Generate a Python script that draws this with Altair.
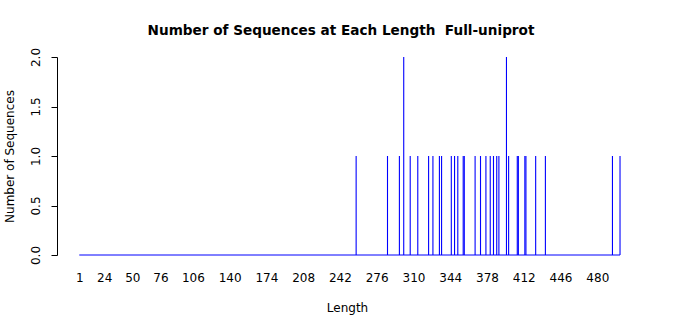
import altair as alt
import pandas as pd

# Sequence lengths with non-zero counts
lengths = [257, 286, 297, 301, 307, 314, 324, 328, 334, 336, 345, 348, 351,
           356, 357, 367, 372, 377, 381, 384, 387, 389, 396, 398, 406, 407,
           413, 414, 423, 432, 494, 501]
counts = [1, 1, 1, 2, 1, 1, 1, 1, 1, 1, 1, 1, 1,
          1, 1, 1, 1, 1, 1, 1, 1, 1, 2, 1, 1, 1,
          1, 1, 1, 1, 1, 1]
x_tick_labels = [1, 24, 50, 76, 106, 140, 174, 208, 242, 276, 310, 344, 378, 412, 446, 480]
y_ticks = [0, 0.5, 1.0, 1.5, 2.0]
length_range = [1, 501]

bars = pd.DataFrame({"Length": lengths, "Count": counts})
base_df = pd.DataFrame({"start": [length_range[0]], "end": [length_range[1]], "zero": [0]})

FONT = "DejaVu Sans"
BLUE = "#0000ff"

xscale = alt.Scale(domain=[-19.6, 516.7], nice=False, zero=False)
yscale = alt.Scale(domain=[0, 2], nice=False)

xaxis = alt.Axis(values=x_tick_labels, domain=False, ticks=False, grid=False,
                 labelPadding=17, labelFontSize=12, labelFont=FONT, labelColor="black",
                 labelOverlap=False, labelFlush=False, labelBound=False,
                 title="Length", titleFont=FONT, titleFontSize=12,
                 titleFontWeight="normal", titlePadding=19, titleColor="black")
yaxis = alt.Axis(values=y_ticks, format=".1f", grid=False, domainColor="black",
                 tickColor="black", tickSize=6, labelAngle=-90, labelPadding=9,
                 labelFontSize=12, labelFont=FONT, labelColor="black",
                 labelAlign="center", labelBaseline="bottom", labelOverlap=False,
                 title="Number of Sequences", titleFont=FONT, titleFontSize=12,
                 titleFontWeight="normal", titlePadding=13, titleColor="black")

baseline = alt.Chart(base_df).mark_rule(color=BLUE, strokeWidth=1).encode(
    x=alt.X("start:Q", scale=xscale, axis=xaxis),
    x2="end:Q",
    y=alt.Y("zero:Q", scale=yscale, axis=yaxis),
)

rules = alt.Chart(bars).mark_rule(color=BLUE, strokeWidth=1.1).encode(
    x=alt.X("Length:Q", scale=xscale, axis=xaxis),
    y=alt.Y("Count:Q", scale=yscale, axis=yaxis),
    y2=alt.datum(0),
)

chart = (baseline + rules).properties(
    width=580, height=198,
    title=alt.TitleParams("Number of Sequences at Each Length\u00a0\u00a0Full-uniprot",
                          font=FONT, fontSize=13.6, fontWeight="bold", color="black",
                          anchor="middle", dx=-6, offset=10),
    autosize=alt.AutoSizeParams(type="none"),
    padding={"left": 57, "top": 57, "right": 63, "bottom": 60},
).configure(background="white").configure_view(strokeWidth=0, stroke=None)

chart.save("out.html", embed_options={"renderer": "svg", "actions": False})
